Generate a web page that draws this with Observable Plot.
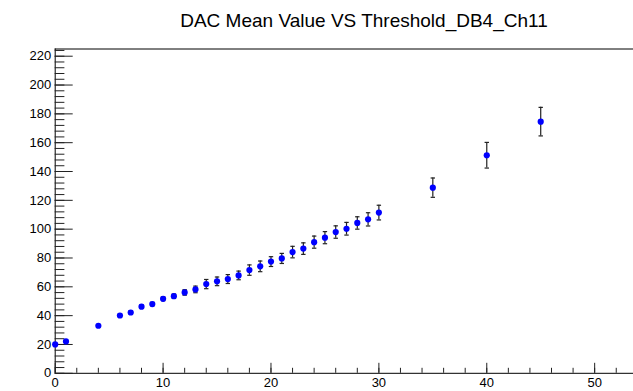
<!DOCTYPE html>
<html>
<head>
<meta charset="utf-8">
<script src="https://cdn.jsdelivr.net/npm/d3@7"></script>
<script src="https://cdn.jsdelivr.net/npm/@observablehq/plot@0.6"></script>
<style>
  html, body { margin: 0; padding: 0; background: #fff; }
  #wrap { position: relative; width: 633px; height: 391px; overflow: hidden; }
  #title { position: absolute; top: 11px; left: 164px; width: 400px; text-align: center;
           font-family: "Liberation Sans", Arial, sans-serif; font-size: 19px; line-height: 19px; color: #000; white-space: nowrap; }
  #chart svg { display: block; }
</style>
</head>
<body>
<div id="wrap">
  <div id="chart"></div>
  <div id="title">DAC Mean Value VS Threshold_DB4_Ch11</div>
</div>
<script>
// Data
const thresholds = [0, 1, 4, 6, 7, 8, 9, 10, 11, 12, 13, 14, 15, 16, 17, 18, 19, 20, 21, 22, 23, 24, 25, 26, 27, 28, 29, 30, 35, 40, 45];
const dacMean    = [20, 22.1, 33, 40.1, 42.2, 46.2, 48, 51.7, 53.5, 56.1, 58.2, 61.9, 63.8, 65.4, 67.9, 71.6, 74.2, 77.5, 79.7, 84.1, 86.5, 91, 94.1, 98, 100.3, 104.3, 106.8, 111.5, 128.8, 151.3, 174.6];
const dacErr     = [0.5, 0.6, 0.8, 1, 1, 1.1, 1.2, 1.3, 1.5, 1.9, 2.3, 3.2, 3.0, 3.1, 3.0, 3.6, 3.7, 3.4, 3.5, 4.0, 4.0, 4.2, 4.2, 4.3, 4.4, 4.3, 4.6, 5.1, 6.7, 8.9, 9.9];

const xDomain = [0, 53.6];
const yDomain = [0, 225];
const xMajorTicks = [0, 10, 20, 30, 40, 50];
const xMinorTicks = d3.range(0, 54, 2);
const yMajorTicks = d3.range(0, 221, 20);
const yMinorTicks = d3.range(0, 225, 4);

const rows = thresholds.map((t, i) => ({t, v: dacMean[i], e: dacErr[i]}));

const capSymbol = {
  draw(context, size) {
    const r = Math.sqrt(size / Math.PI);
    context.moveTo(-r, 0);
    context.lineTo(r, 0);
  }
};

const chart = Plot.plot({
  width: 633,
  height: 391,
  marginLeft: 54.7,
  marginRight: 0,
  marginTop: 48.5,
  marginBottom: 18.2,
  style: {fontFamily: "'Liberation Sans', Arial, sans-serif", fontSize: "13px", background: "white", color: "#000"},
  x: {domain: xDomain, axis: null},
  y: {domain: yDomain, axis: null},
  marks: [
    // frame lines
    Plot.ruleX([xDomain[0]], {stroke: "#000", strokeWidth: 1}),
    Plot.ruleY([yDomain[0]], {stroke: "#000", strokeWidth: 1}),
    Plot.ruleY([yDomain[1]], {stroke: "#000", strokeWidth: 1}),
    // inward ticks
    Plot.axisY({ticks: yMajorTicks, tickSize: -18, tickFormat: () => "", label: null, stroke: "#222"}),
    Plot.axisY({ticks: yMinorTicks, tickSize: -9.7, tickFormat: () => "", label: null, stroke: "#222"}),
    Plot.axisX({ticks: xMajorTicks, tickSize: -10, tickFormat: () => "", label: null, stroke: "#222"}),
    Plot.axisX({ticks: xMinorTicks, tickSize: -5, tickFormat: () => "", label: null, stroke: "#222"}),
    // tick labels
    Plot.axisY({ticks: yMajorTicks, tickSize: 0, tickPadding: 4, label: null, fontSize: 13}),
    Plot.axisX({ticks: xMajorTicks, tickSize: 0, tickPadding: 4, label: null, fontSize: 13}),
    // error bars
    Plot.ruleX(rows, {x: "t", y1: d => d.v - d.e, y2: d => d.v + d.e, stroke: "#222", strokeWidth: 1.2}),
    Plot.dot(rows, {x: "t", y: d => d.v + d.e, symbol: capSymbol, r: 2.2, stroke: "#222", fill: "none", strokeWidth: 1.2}),
    Plot.dot(rows, {x: "t", y: d => d.v - d.e, symbol: capSymbol, r: 2.2, stroke: "#222", fill: "none", strokeWidth: 1.2}),
    // markers
    Plot.dot(rows, {x: "t", y: "v", r: 3.1, fill: "#0000ff", stroke: null})
  ]
});
document.getElementById("chart").appendChild(chart);
</script>
</body>
</html>
